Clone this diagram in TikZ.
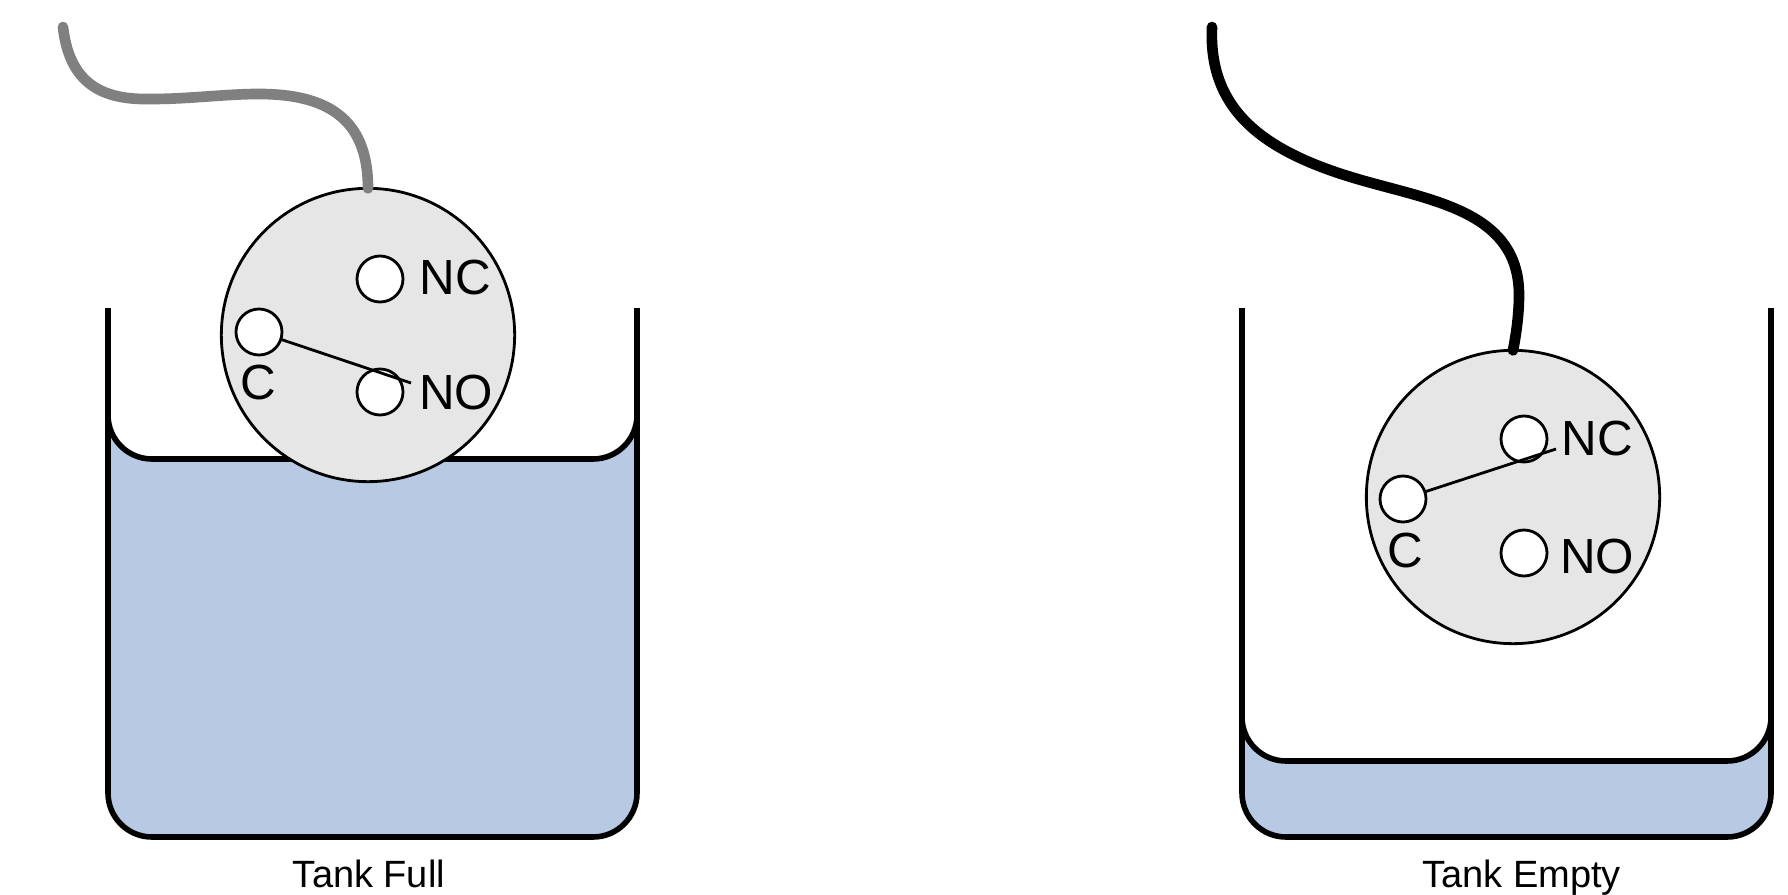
\documentclass[tikz,border=0pt]{standalone}
\usepackage{fontspec}
\setmainfont{Liberation Sans}
\definecolor{watercol}{HTML}{B8C9E3}
\definecolor{floatcol}{HTML}{E6E6E6}
\definecolor{wirecol}{HTML}{808080}
\tikzset{
    tankwall/.style={line width=4.2pt,rounded corners=33pt},
    floatball/.style={circle,draw,fill=floatcol,line width=2.1pt,minimum size=220pt,inner sep=0pt,outer sep=0pt},
    contact/.style={circle,draw,fill=white,line width=2.1pt,minimum size=34.5pt,inner sep=0pt,outer sep=0pt},
    contacttext/.style={inner sep=0pt,font=\fontsize{37}{40}\selectfont},
    tanktext/.style={inner sep=0pt,anchor=base,font=\fontsize{28.5}{30}\selectfont},
    wire/.style={line width=8pt,line cap=round},
    lever/.style={line width=2.1pt}
}

\begin{document}
\begin{tikzpicture}[x=0.75pt,y=-0.75pt]
        \useasboundingbox (0,0) rectangle (1788,895);

        \draw[tankwall,fill=watercol] (108,308) -- (108,837) -- (637,837) -- (637,308);
        \draw[tankwall,fill=white] (108,308) -- (108,459) -- (637,459) -- (637,308);
        \node[floatball] (floatfull) at (368,335) {};
        \node[contact] (ncfull) at (380,279) {};
        \node[contact] (cfull) at (259,332) {};
        \node[contact] (nofull) at (380,392) {};
        \node[contacttext] (ncfulltext) at (455.5,277.5) {NC};
        \node[contacttext] (nofulltext) at (456,392.5) {NO};
        \node[contacttext] (cfulltext) at (258,382.5) {C};
        \node[tanktext] (fulltext) at (369,887) {Tank Full};
        \coordinate (leverfull) at (411,383);
        \coordinate (wirefull) at (63,27);
        \draw[lever] (cfull) -- (leverfull);
        \draw[wire,wirecol] (wirefull) .. controls (70,90) and (110,100) .. (152,99)
            .. controls (190,99) and (225,94) .. (259,94)
            .. controls (335,94) and (368,125) .. (floatfull.north);

        \draw[tankwall,fill=watercol] (1242,308) -- (1242,837) -- (1771,837) -- (1771,308);
        \draw[tankwall,fill=white] (1242,308) -- (1242,761) -- (1771,761) -- (1771,308);
        \node[floatball] (floatempty) at (1513,497) {};
        \node[contact] (ncempty) at (1524,439) {};
        \node[contact] (cempty) at (1403,499) {};
        \node[contact] (noempty) at (1524,553) {};
        \node[contacttext] (ncemptytext) at (1597,438.5) {NC};
        \node[contacttext] (noemptytext) at (1597,556.5) {NO};
        \node[contacttext] (cemptytext) at (1405,551) {C};
        \node[tanktext] (emptytext) at (1521.5,887) {Tank Empty};
        \coordinate (leverempty) at (1556,449);
        \coordinate (wireempty) at (1212,27);
        \draw[lever] (cempty) -- (leverempty);
        \draw[wire] (wireempty) .. controls (1208,115) and (1270,155) .. (1368,182)
            .. controls (1440,202) and (1519,215) .. (1519,295)
            .. controls (1519,315) and (1516,335) .. (floatempty.north);
    \end{tikzpicture}
\end{document}
